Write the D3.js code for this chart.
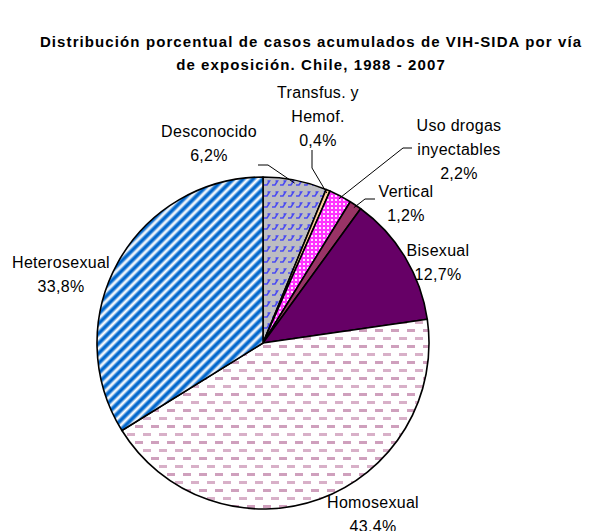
<!DOCTYPE html>
<html>
<head>
<meta charset="utf-8">
<script src="https://cdn.jsdelivr.net/npm/d3@7"></script>
<style>
  body { margin: 0; background: #fff; }
  text { font-family: Arial, "Liberation Sans", sans-serif; fill: #000; }
</style>
</head>
<body>
<div id="chart"></div>
<script>
// data, clockwise from 12 o'clock
var categories = ["Desconocido", "Transfus. y Hemof.", "Uso drogas inyectables", "Vertical", "Bisexual", "Homosexual", "Heterosexual"];
var values = [6.2, 0.4, 2.2, 1.2, 12.7, 43.4, 33.8];
var labelLines = [["Desconocido"], ["Transfus. y", "Hemof."], ["Uso drogas", "inyectables"], ["Vertical"], ["Bisexual"], ["Homosexual"], ["Heterosexual"]];
var titleLines = ["Distribución porcentual de casos acumulados de VIH-SIDA por vía", "de exposición. Chile, 1988 - 2007"];

var w = 608, h = 531;
var cx = 263, cy = 343, r = 166;

// where each label block sits (x center, y of first line)
var labelPos = [[209, 131], [318, 92], [459, 125], [406, 191], [438, 250], [373, 502], [61, 262]];
var lineH = 24;

var svg = d3.select("#chart").append("svg")
    .attr("width", w)
    .attr("height", h);

var defs = svg.append("defs");

// gray with little blue marks
var p0 = defs.append("pattern").attr("id", "pDesc").attr("patternUnits", "userSpaceOnUse")
    .attr("width", 8).attr("height", 11);
p0.append("rect").attr("width", 8).attr("height", 11).attr("fill", "#bdbdc2");
p0.append("path").attr("d", "M1,7 L4,7 L6.5,3 L4.5,3").attr("stroke", "#4a4af2").attr("stroke-width", 1.6).attr("fill", "none");

// magenta with white dots
var p2 = defs.append("pattern").attr("id", "pDrug").attr("patternUnits", "userSpaceOnUse")
    .attr("width", 4).attr("height", 4);
p2.append("rect").attr("width", 4).attr("height", 4).attr("fill", "#ff33ff");
p2.append("rect").attr("width", 2).attr("height", 2).attr("fill", "#ffe0ff");

// pink dashes on white
var p5 = defs.append("pattern").attr("id", "pHomo").attr("patternUnits", "userSpaceOnUse")
    .attr("width", 16).attr("height", 16);
p5.append("rect").attr("width", 16).attr("height", 16).attr("fill", "#fff");
p5.append("rect").attr("x", 0).attr("y", 2).attr("width", 8).attr("height", 3).attr("fill", "#cfa0bd");
p5.append("rect").attr("x", 8).attr("y", 10).attr("width", 8).attr("height", 3).attr("fill", "#d8b0c8");

// blue diagonal stripes
var p6 = defs.append("pattern").attr("id", "pHetero").attr("patternUnits", "userSpaceOnUse")
    .attr("width", 7).attr("height", 7).attr("patternTransform", "rotate(45)");
p6.append("rect").attr("width", 7).attr("height", 7).attr("fill", "#fff");
p6.append("rect").attr("x", 0.5).attr("width", 5).attr("height", 7).attr("fill", "#80b2e6");
p6.append("rect").attr("x", 1.5).attr("width", 3).attr("height", 7).attr("fill", "#0066cc");

var fills = ["url(#pDesc)", "#ffcc99", "url(#pDrug)", "#993366", "#660066", "url(#pHomo)", "url(#pHetero)"];

// title
svg.append("g").selectAll("text")
    .data(titleLines)
    .enter()
    .append("text")
    .text(function(d) { return d; })
    .attr("x", 311)
    .attr("y", function(d, i) { return 47 + i * 23; })
    .attr("text-anchor", "middle")
    .attr("font-size", "15px")
    .attr("font-weight", "bold")
    .attr("letter-spacing", "1.1px");

var pie = d3.pie().sort(null).value(function(d) { return d; });
var arcs = pie(values);
var arc = d3.arc().innerRadius(0).outerRadius(r);

var g = svg.append("g").attr("transform", "translate(" + cx + "," + cy + ")");

g.selectAll("path")
    .data(arcs)
    .enter()
    .append("path")
    .attr("d", arc)
    .attr("fill", function(d, i) { return fills[i]; })
    .attr("stroke", "#000")
    .attr("stroke-width", 1.6)
    .attr("stroke-linejoin", "round");

// leader lines for the small slices: from label elbow to slice middle on the rim
var rimArc = d3.arc().innerRadius(r - 3).outerRadius(r - 3);
var leaders = [
    { i: 0, pts: [[258, 165], [268, 165]] },
    { i: 1, pts: [[312, 150], [312, 168]] },
    { i: 2, pts: [[412, 148], [403, 148]] },
    { i: 3, pts: [[375, 199], [365, 199]] }
];
svg.append("g").selectAll("path")
    .data(leaders)
    .enter()
    .append("path")
    .attr("d", function(d) {
        var c = rimArc.centroid(arcs[d.i]);
        var pts = d.pts.concat([[cx + c[0], cy + c[1]]]);
        return d3.line()(pts);
    })
    .attr("fill", "none")
    .attr("stroke", "#000")
    .attr("stroke-width", 1);

var fmt = function(v) { return d3.format(".1f")(v).replace(".", ",") + "%"; };

var lg = svg.append("g").selectAll("text")
    .data(arcs)
    .enter()
    .append("text")
    .attr("text-anchor", "middle")
    .attr("font-size", "16px")
    .attr("letter-spacing", "0.3px")
    .attr("x", function(d, i) { return labelPos[i][0]; })
    .attr("y", function(d, i) { return labelPos[i][1] + 6; });

lg.each(function(d, i) {
    var t = d3.select(this);
    var lines = labelLines[i].concat([fmt(d.data)]);
    lines.forEach(function(s, k) {
        t.append("tspan")
            .attr("x", labelPos[i][0])
            .attr("dy", k === 0 ? 0 : lineH)
            .text(s);
    });
});
</script>
</body>
</html>
